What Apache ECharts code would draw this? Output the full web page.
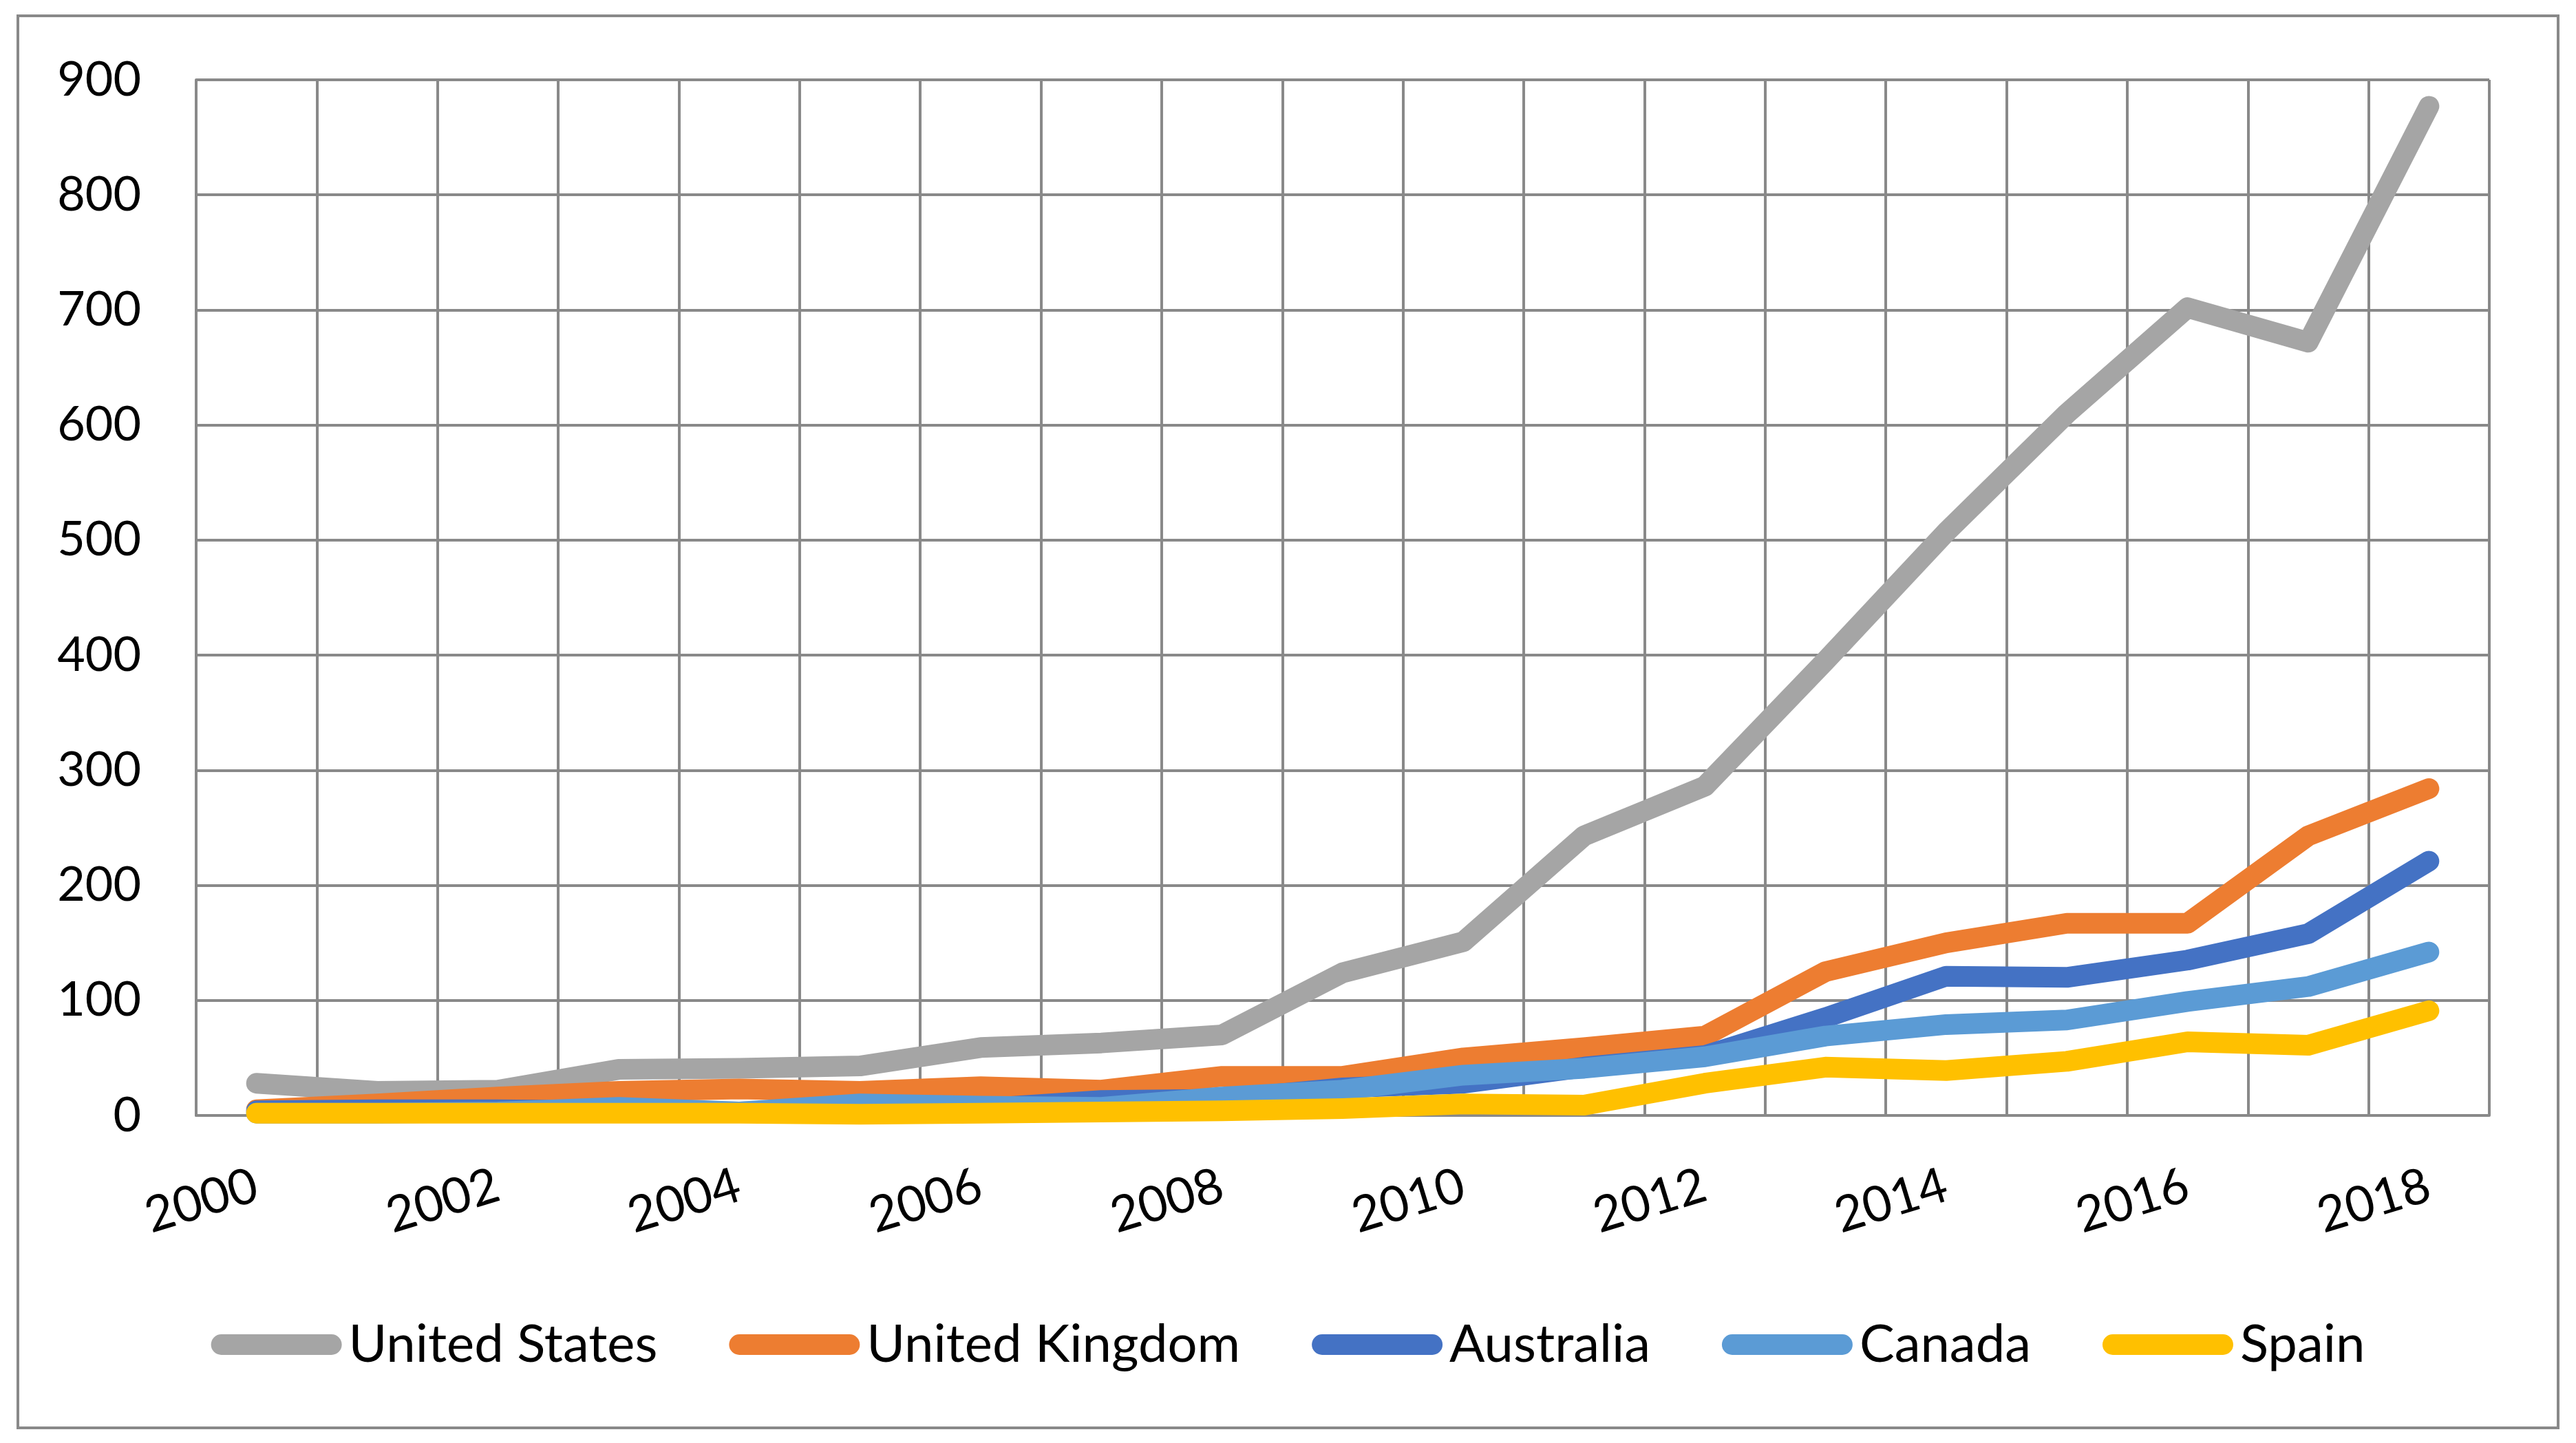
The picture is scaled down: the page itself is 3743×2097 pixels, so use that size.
<!DOCTYPE html>
<html>
<head>
<meta charset="utf-8">
<script src="https://cdn.jsdelivr.net/npm/echarts@6/dist/echarts.min.js"></script>
<style>
html,body{margin:0;padding:0;background:#fff;}
#chart{width:3743px;height:2097px;}
</style>
</head>
<body>
<div id="chart"></div>
<script>
const years = ['2000','2001','2002','2003','2004','2005','2006','2007','2008','2009','2010','2011','2012','2013','2014','2015','2016','2017','2018'];
const seriesNames = ['United States','United Kingdom','Australia','Canada','Spain'];
const unitedStates = [28, 21, 22, 40, 41, 43, 59, 63, 70, 124, 151, 243, 286, 395, 507, 610, 702, 672, 877];
const unitedKingdom = [5, 10, 16, 21, 23, 21, 25, 22, 34, 34, 50, 59, 69, 125, 150, 167, 167, 243, 284];
const australia = [4, 5, 5, 4, 3, 4, 6, 13, 14, 24, 28, 42, 52, 85, 121, 120, 135, 158, 221];
const canada = [2, 2, 3, 7, 3, 10, 8, 7, 16, 22, 35, 41, 51, 69, 79, 83, 99, 112, 142];
const spain = [2, 2, 2, 2, 2, 1, 2, 3, 4, 6, 10, 9, 28, 42, 39, 47, 64, 61, 91];
const yTicks = {min: 0, max: 900, interval: 100};

const colors = ['#A5A5A5', '#ED7D31', '#4472C4', '#5B9BD5', '#FFC000'];
const values = [unitedStates, unitedKingdom, australia, canada, spain];
const gridColor = '#898989';
const font = 'Lato';

const chart = echarts.init(document.getElementById('chart'), null, {renderer: 'canvas'});
chart.setOption({
  animation: false,
  backgroundColor: '#ffffff',
  color: colors,
  textStyle: {fontFamily: font},
  graphic: [{
    type: 'rect',
    shape: {x: 26, y: 23, width: 3691, height: 2052},
    style: {fill: 'none', stroke: gridColor, lineWidth: 4},
    z: -1
  }],
  grid: {left: 285, top: 116, right: 126, bottom: 476, containLabel: false},
  legend: {
    data: seriesNames,
    left: 'center',
    top: 1904,
    itemWidth: 190,
    itemHeight: 30,
    itemGap: 104,
    icon: 'path://M15,0 L175,0 A15,15 0 0 1 175,30 L15,30 A15,15 0 0 1 15,0 Z',
    textStyle: {fontFamily: font, fontSize: 76, color: '#000', lineHeight: 90, padding: [0, 0, 0, 5]}
  },
  xAxis: {
    type: 'category',
    data: years,
    boundaryGap: true,
    axisLine: {show: true, lineStyle: {color: gridColor, width: 4}},
    axisTick: {show: false},
    splitLine: {show: true, interval: 0, lineStyle: {color: gridColor, width: 4}},
    axisLabel: {interval: 1, rotate: 17, margin: 100, fontFamily: font, fontSize: 72, color: '#000'}
  },
  yAxis: {
    type: 'value',
    min: yTicks.min,
    max: yTicks.max,
    interval: yTicks.interval,
    axisLine: {show: true, lineStyle: {color: gridColor, width: 4}},
    axisTick: {show: false},
    splitLine: {show: true, lineStyle: {color: gridColor, width: 4}},
    axisLabel: {margin: 80, fontFamily: font, fontSize: 70, color: '#000'}
  },
  series: seriesNames.map((name, i) => ({
    name: name,
    type: 'line',
    data: values[i],
    symbol: 'none',
    clip: false,
    lineStyle: {width: 30, color: colors[i], cap: 'round', join: 'round'},
    itemStyle: {color: colors[i]},
    emphasis: {disabled: true}
  }))
});
</script>
</body>
</html>
